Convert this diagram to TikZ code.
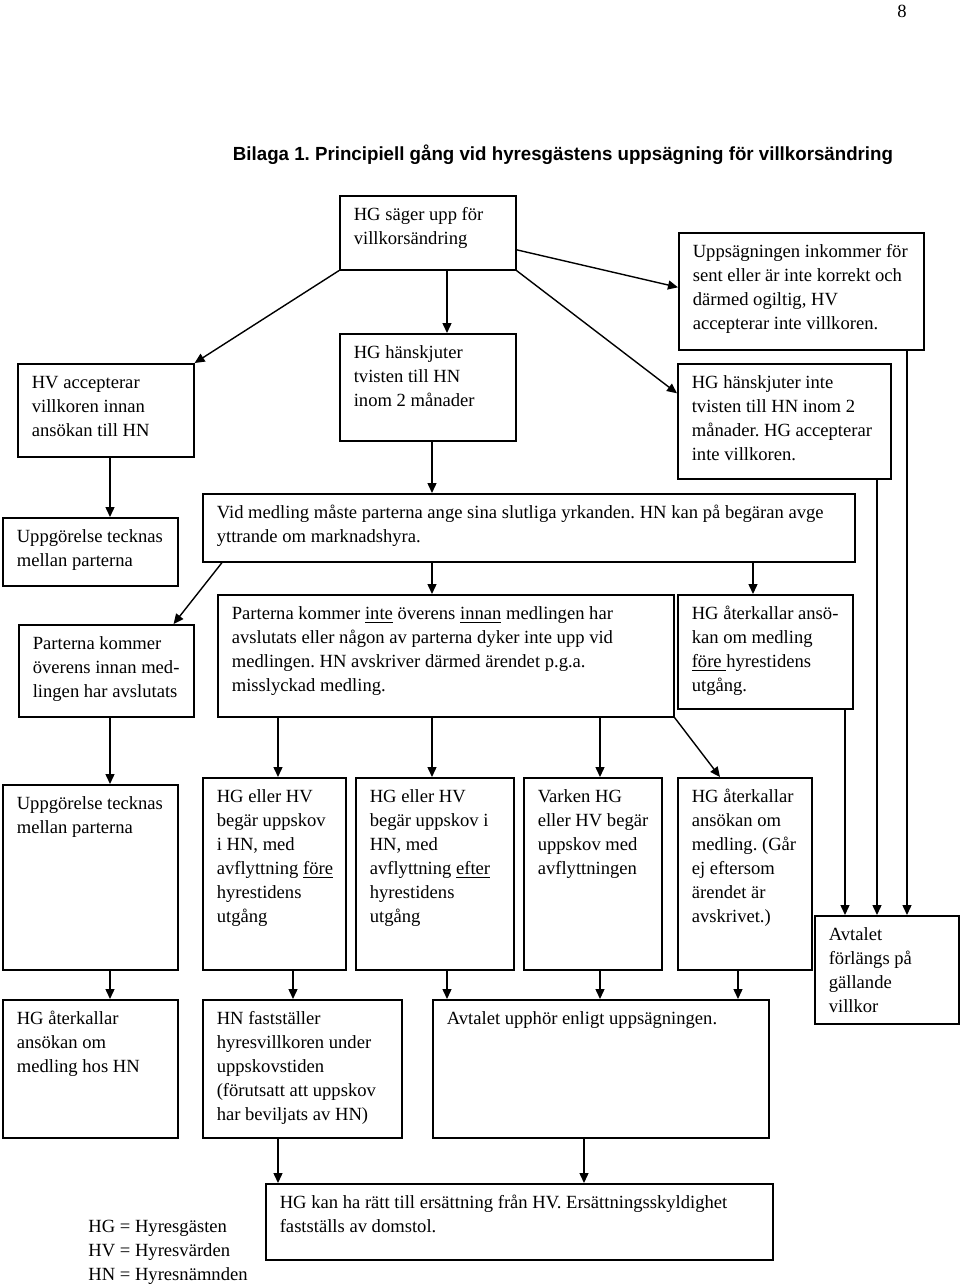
\documentclass[tikz,border=0pt]{standalone}
\usepackage{fontspec}
\setmainfont{Liberation Serif}
\newfontfamily\titlefont{Liberation Sans}
\usetikzlibrary{arrows.meta,calc}
\frenchspacing

\newcommand{\boxtext}[3]{%
  \begin{minipage}[t][#2][t]{#1}\vspace*{4pt}%
  \raggedright\leftskip=7pt\relax\strut #3\end{minipage}}

\begin{document}
\begin{tikzpicture}[x=0.5pt, y=-0.5pt,
		font=\fontsize{9.3}{12}\selectfont,
		box/.style={draw, line width=0.8pt, anchor=north west, inner sep=0pt},
		arr/.style={-{Triangle[length=5pt,width=4.5pt]}, line width=0.7pt}]
		\useasboundingbox (0,0) rectangle (960,1287);

		\node[anchor=base] (pagenr) at (902,17) {8};
		\node[anchor=base, font=\titlefont\bfseries\fontsize{9.5}{11}\selectfont] (title) at (563,160)
			{\resizebox{330pt}{\height}{Bilaga 1. Principiell gång vid hyresgästens uppsägning för villkorsändring}};

		\node[box] (uppsag) at (339,195) {\boxtext{88pt}{37pt}{HG säger upp för\\villkorsändring}};
		\node[box] (hvacc) at (17,363) {\boxtext{88pt}{46.5pt}{HV accepterar\\villkoren innan\\ansökan till HN}};
		\node[box] (hansk) at (339,333) {\boxtext{88pt}{53.5pt}{HG hänskjuter\\tvisten till HN\\inom 2 månader}};
		\node[box] (sent) at (678,232) {\boxtext{122.5pt}{58.5pt}{Uppsägningen inkommer för\\sent eller är inte korrekt och\\därmed ogiltig, HV\\accepterar inte villkoren.}};
		\node[box] (inte) at (677,363) {\boxtext{106.5pt}{57.5pt}{HG hänskjuter inte\\tvisten till HN inom 2\\månader. HG accepterar\\inte villkoren.}};

		\node[box] (uppg1) at (2,517) {\boxtext{87.5pt}{34pt}{Uppgörelse tecknas\\mellan parterna}};
		\node[box] (medl) at (202,493) {\boxtext{326pt}{34pt}{Vid medling måste parterna ange sina slutliga yrkanden. HN kan på begäran avge\\yttrande om marknadshyra.}};

		\node[box] (overens) at (18,624) {\boxtext{87.5pt}{46pt}{Parterna kommer\\överens innan med-\\lingen har avslutats}};
		\node[box] (ejoverens) at (217,594) {\boxtext{228pt}{61pt}{Parterna kommer \underline{inte} överens \underline{innan} medlingen har\\avslutats eller någon av parterna dyker inte upp vid\\medlingen. HN avskriver därmed ärendet p.g.a.\\misslyckad medling.}};
		\node[box] (aterk1) at (677,594) {\boxtext{87.5pt}{57pt}{HG återkallar ansö-\\kan om medling\\\underline{före\ }hyrestidens\\utgång.}};

		\node[box] (uppg2) at (2,784) {\boxtext{87.5pt}{92.5pt}{Uppgörelse tecknas\\mellan parterna}};
		\node[box] (fore) at (202,777) {\boxtext{71.5pt}{96pt}{HG eller HV\\begär uppskov\\i HN, med\\avflyttning \underline{före}\\hyrestidens\\utgång}};
		\node[box] (efter) at (355,777) {\boxtext{79pt}{96pt}{HG eller HV\\begär uppskov i\\HN, med\\avflyttning \underline{efter}\\hyrestidens\\utgång}};
		\node[box] (varken) at (523,777) {\boxtext{69pt}{96pt}{Varken HG\\eller HV begär\\uppskov med\\avflyttningen}};
		\node[box] (aterk2) at (677,777) {\boxtext{67pt}{96pt}{HG återkallar\\ansökan om\\medling. (Går\\ej eftersom\\ärendet är\\avskrivet.)}};
		\node[box] (forlangs) at (814,915) {\boxtext{72pt}{54pt}{Avtalet\\förlängs på\\gällande\\villkor}};

		\node[box] (aterk3) at (2,999) {\boxtext{87.5pt}{69pt}{HG återkallar\\ansökan om\\medling hos HN}};
		\node[box] (fastst) at (202,999) {\boxtext{99.5pt}{69pt}{HN fastställer\\hyresvillkoren under\\uppskovstiden\\(förutsatt att uppskov\\har beviljats av HN)}};
		\node[box] (upphor) at (432,999) {\boxtext{168pt}{69pt}{Avtalet upphör enligt uppsägningen.}};

		\node[box] (ersatt) at (265,1183) {\boxtext{253.5pt}{38pt}{HG kan ha rätt till ersättning från HV. Ersättningsskyldighet\\fastställs av domstol.}};

		\node[anchor=base west, inner sep=0pt] (hg) at (88,1232) {HG = Hyresgästen};
		\node[anchor=base west, inner sep=0pt] (hv) at (88,1256) {HV = Hyresvärden};
		\node[anchor=base west, inner sep=0pt] (hn) at (88,1280) {HN = Hyresnämnden};

		\draw[arr] (uppsag.south west) -- (hvacc.north east);
		\draw[arr] ($(uppsag.south west)+(108,0)$) -- ($(hansk.north west)+(108,0)$);
		\draw[arr] ($(uppsag.east)+(0,17)$) -- ($(sent.west)+(0,-4)$);
		\draw[arr] (uppsag.south east) -- ($(inte.west)+(0,-28)$);
		\draw[arr] ($(hvacc.south west)+(93,0)$) -- ($(uppg1.north west)+(108,0)$);
		\draw[arr] ($(hansk.south west)+(93,0)$) -- ($(medl.north west)+(230,0)$);
		\draw[arr] ($(medl.south west)+(20,0)$) -- ($(overens.north east)+(-21,0)$);
		\draw[arr] ($(medl.south west)+(230,0)$) -- ($(ejoverens.north west)+(215,0)$);
		\draw[arr] ($(medl.south west)+(551,0)$) -- ($(aterk1.north west)+(76,0)$);
		\draw[arr] ($(overens.south west)+(92,0)$) -- ($(uppg2.north west)+(108,0)$);
		\draw[arr] ($(ejoverens.south west)+(61,0)$) -- ($(fore.north west)+(76,0)$);
		\draw[arr] ($(ejoverens.south west)+(215,0)$) -- ($(efter.north west)+(77,0)$);
		\draw[arr] ($(ejoverens.south west)+(383,0)$) -- ($(varken.north west)+(77,0)$);
		\draw[arr] (ejoverens.south east) -- ($(aterk2.north west)+(43,0)$);
		\draw[arr] ($(aterk1.south west)+(168,0)$) -- ($(forlangs.north west)+(31,0)$);
		\draw[arr] ($(inte.south west)+(200,0)$) -- ($(forlangs.north west)+(63,0)$);
		\draw[arr] ($(sent.south west)+(229,0)$) -- ($(forlangs.north west)+(93,0)$);
		\draw[arr] ($(uppg2.south west)+(108,0)$) -- ($(aterk3.north west)+(108,0)$);
		\draw[arr] ($(fore.south west)+(91,0)$) -- ($(fastst.north west)+(91,0)$);
		\draw[arr] ($(efter.south west)+(92,0)$) -- ($(upphor.north west)+(15,0)$);
		\draw[arr] ($(varken.south west)+(77,0)$) -- ($(upphor.north west)+(168,0)$);
		\draw[arr] ($(aterk2.south west)+(61,0)$) -- ($(upphor.north west)+(306,0)$);
		\draw[arr] ($(fastst.south west)+(76,0)$) -- ($(ersatt.north west)+(13,0)$);
		\draw[arr] ($(upphor.south west)+(152,0)$) -- ($(ersatt.north west)+(319,0)$);
	\end{tikzpicture}
\end{document}
